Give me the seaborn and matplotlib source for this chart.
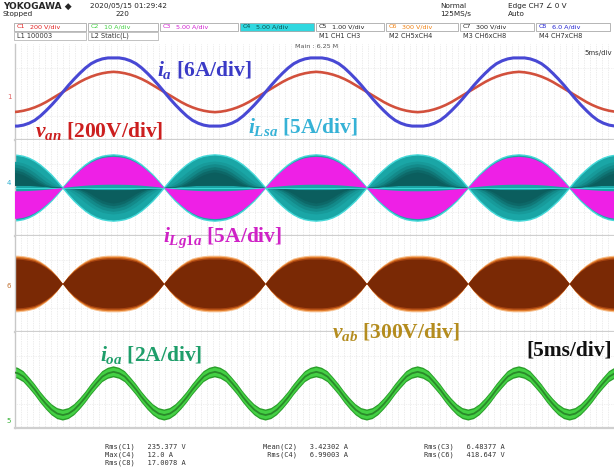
import numpy as np
import pandas as pd
import matplotlib
matplotlib.use("Agg")
import matplotlib.pyplot as plt
import matplotlib.patches as mpatches
import seaborn as sns

sns.set_theme(style="white")
plt.rcParams["font.family"] = ["DejaVu Sans"]
plt.rcParams["mathtext.fontset"] = "custom"
plt.rcParams["mathtext.it"] = "Liberation Serif:italic:bold"
plt.rcParams["mathtext.rm"] = "Liberation Serif:bold"

W, H = 614, 471

# ---------------- data (screen divisions, read from the capture) ----------------
time_per_div_ms = 5.0
n_div_x = 10
period_ms = 16.92          # fundamental period
t_first_zero_ms = 4.0      # rising zero crossing of i_a
n_periods = 4

# one fundamental period, 10 degree steps (div)
ia_period = [0.00, 0.14, 0.27, 0.39, 0.50, 0.59, 0.65, 0.69, 0.71, 0.71, 0.71, 0.69,
             0.65, 0.59, 0.50, 0.39, 0.27, 0.14, 0.00, -0.14, -0.27, -0.39, -0.50, -0.59,
             -0.65, -0.69, -0.71, -0.71, -0.71, -0.69, -0.65, -0.59, -0.50, -0.39, -0.27, -0.14]
van_period = [0.00, 0.07, 0.14, 0.21, 0.27, 0.32, 0.36, 0.39, 0.41, 0.42, 0.41, 0.39,
              0.36, 0.32, 0.27, 0.21, 0.14, 0.07, 0.00, -0.07, -0.14, -0.21, -0.27, -0.32,
              -0.36, -0.39, -0.41, -0.42, -0.41, -0.39, -0.36, -0.32, -0.27, -0.21, -0.14, -0.07]
# half period envelopes (div)
iLsa_env_half = [0.00, 0.14, 0.27, 0.38, 0.48, 0.56, 0.62, 0.66, 0.68, 0.69, 0.68, 0.66,
                 0.62, 0.56, 0.48, 0.38, 0.27, 0.14]
vab_env_half = [0.00, 0.16, 0.29, 0.39, 0.47, 0.53, 0.56, 0.58, 0.59, 0.59, 0.59, 0.58,
                0.56, 0.53, 0.47, 0.39, 0.29, 0.16]
ioa_half = [-0.73, -0.70, -0.62, -0.50, -0.36, -0.20, -0.06, 0.07, 0.14, 0.17, 0.14, 0.07,
            -0.06, -0.20, -0.36, -0.50, -0.62, -0.70]

labels = {
    "ia": r"$i_a$ [6A/div]",
    "van": r"$v_{an}$ [200V/div]",
    "iLsa": r"$i_{Lsa}$ [5A/div]",
    "iLg1a": r"$i_{Lg1a}$ [5A/div]",
    "vab": r"$v_{ab}$ [300V/div]",
    "ioa": r"$i_{oa}$ [2A/div]",
}

channel_boxes = [("C1", "200 V/div"), ("C2", "10 A/div"), ("C3", "5.00 A/div"),
                 ("C4", "5.00 A/div"), ("C5", "1.00 V/div"), ("C6", "300 V/div"),
                 ("C7", "300 V/div"), ("C8", "6.0 A/div")]
lower_boxes = [("L1", "100003"), ("L2", "Static(L)")]
math_rows = [("M1", "CH1 CH3"), ("M2", "CH5xCH4"), ("M3", "CH6xCH8"), ("M4", "CH7xCH8")]
meas_col1 = ["Rms(C1)   235.377 V", "Max(C4)   12.0 A", "Rms(C8)   17.0078 A"]
meas_col2 = ["Mean(C2)   3.42302 A", " Rms(C4)   6.99003 A"]
meas_col3 = ["Rms(C3)   6.48377 A", "Rms(C6)   418.647 V"]

# ---------------- build sample frame ----------------
n_samp = 36 * n_periods + 1
step = period_ms / 36
t = t_first_zero_ms - period_ms + np.arange(n_samp) * step


def full(vals):
    return np.concatenate([np.tile(vals, n_periods), np.asarray(vals[:1])])


def half(vals):
    return np.concatenate([np.tile(vals, 2 * n_periods), np.asarray(vals[:1])])


df = pd.DataFrame({
    "t": t,
    "ia": full(ia_period),
    "van": full(van_period),
    "env": half(iLsa_env_half),
    "venv": half(vab_env_half),
    "ioa": half(ioa_half),
})
sgn = np.sign(df["van"].values)
env = df["env"].values
emax = env.max()
en = env / emax

# ---------------- figure ----------------
fig = plt.figure(figsize=(W / 100, H / 100), dpi=100)
fig.patch.set_facecolor("white")

x0, x1 = 15, 614
tops = [44, 140, 236, 332]
ph = 96
axes = []
for top in tops:
    ax = fig.add_axes([x0 / W, 1 - (top + ph) / H, (x1 - x0) / W, ph / H])
    ax.set_xlim(0, time_per_div_ms * n_div_x)
    ax.set_ylim(-1, 1)
    ax.set_xticks([])
    ax.set_yticks([])
    for s in ["top", "right"]:
        ax.spines[s].set_visible(False)
    ax.spines["left"].set_color("#c8c8c8")
    ax.spines["left"].set_linewidth(1.0)
    ax.spines["bottom"].set_color("#cfcfcf")
    ax.spines["bottom"].set_linewidth(1.6)
    ax.set_facecolor("white")
    for gx in np.arange(0.5, 50, 0.5):
        ax.axvline(gx, color="#dadada", lw=0.5, ls=(0, (1, 1.5)), zorder=0)
    for gy in [-0.5, 0.5]:
        ax.axhline(gy, color="#e2e2e2", lw=0.5, ls=(0, (1, 1.5)), zorder=0)
    axes.append(ax)

# panel 1: i_a and v_an
ax = axes[0]
sns.lineplot(data=df, x="t", y="van", ax=ax, color="#d2503c", lw=1.9, zorder=3)
sns.lineplot(data=df, x="t", y="ia", ax=ax, color="#4848d4", lw=2.2, zorder=4)
ax.set_xlabel("")
ax.set_ylabel("")

# panel 2: i_Lsa (teal) and i_Lg1a (magenta)
ax = axes[1]
ax.fill_between(df["t"], -env, env, color="#1aa6a6", lw=0, zorder=2)
ax.plot(df["t"], env, color="#44d8d8", lw=1.0, zorder=2.5)
ax.plot(df["t"], -env, color="#44d8d8", lw=1.0, zorder=2.5)
core_cols = ["#179a9a", "#138a8a", "#107878", "#0d6868", "#0b5e5e"]
core_amp = [0.80, 0.72, 0.63, 0.55, 0.47]
core_pow = [1.6, 2.2, 2.9, 3.6, 4.4]
for k, c in enumerate(core_cols):
    ax.fill_between(df["t"], -sgn * 0.07 * env, -sgn * core_amp[k] * en ** core_pow[k] * emax,
                    color=c, lw=0, zorder=3 + 0.01 * k)
ax.axhline(0, color="#45e6e6", lw=0.7, alpha=0.8, zorder=3.3)
ax.fill_between(df["t"], sgn * 0.1 * env, sgn * 0.94 * env, color="#ee20e6", lw=0, zorder=4)

# panel 3: v_ab
ax = axes[2]
venv = df["venv"].values
ax.fill_between(df["t"], -venv, venv, color="#f7c08e", lw=0, zorder=2)
ax.fill_between(df["t"], -0.96 * venv, 0.96 * venv, color="#e07a2a", lw=0, zorder=2.2)
ax.fill_between(df["t"], -0.91 * venv, 0.91 * venv, color="#a84410", lw=0, zorder=2.3)
ax.fill_between(df["t"], -0.86 * venv, 0.86 * venv, color="#7a2905", lw=0, zorder=2.4)

# panel 4: i_oa
ax = axes[3]
g = df["ioa"].values
ax.fill_between(df["t"], g - 0.115, g + 0.115, color="#2a9e2a", lw=0, zorder=2)
ax.fill_between(df["t"], g - 0.085, g + 0.085, color="#44d044", lw=0, zorder=2.2)
sns.lineplot(data=df, x="t", y="ioa", ax=ax, color="#2a8a2a", lw=1.3, zorder=3)
ax.set_xlabel("")
ax.set_ylabel("")


def ftext(x, y, s, **kw):
    fig.text(x / W, 1 - y / H, s, **kw)


lab_kw = dict(fontsize=15.5, fontweight="bold", family="Liberation Serif", va="center", ha="left", zorder=10)
ftext(157, 70, labels["ia"], color="#3a3ac6", **lab_kw)
ftext(35, 131, labels["van"], color="#cc1e1e", **lab_kw)
ftext(248, 127, labels["iLsa"], color="#36b2d6", **lab_kw)
ftext(163, 238, labels["iLg1a"], color="#cf22c6", **lab_kw)
ftext(332, 332, labels["vab"], color="#b48c1e", **lab_kw)
ftext(100, 355, labels["ioa"], color="#1e9e6a", **lab_kw)
ftext(612, 351, "[5ms/div]", color="#111111", fontsize=15.5, fontweight="bold",
      family="Liberation Serif", va="center", ha="right")

# ground markers
mk = dict(fontsize=5, va="center", ha="center", family="DejaVu Sans")
ftext(9, 97, "1", color="#e06060", **mk)
ftext(9, 183, "4", color="#30b0d0", **mk)
ftext(9, 286, "6", color="#c07030", **mk)
ftext(9, 421, "5", color="#30b030", **mk)

# ---------------- header ----------------
hk = dict(fontsize=5.2, family="DejaVu Sans", va="center", ha="left", color="#222222")
ftext(3, 6, "YOKOGAWA \u25c6", fontsize=6.5, fontweight="bold", family="DejaVu Sans", va="center", ha="left")
ftext(90, 6, "2020/05/15 01:29:42", **hk)
ftext(3, 14, "Stopped", **hk)
ftext(115, 14, "220", **hk)
ftext(440, 6, "Normal", **hk)
ftext(440, 14, "125MS/s", **hk)
ftext(508, 6, "Edge CH7 \u2220 0 V", **hk)
ftext(508, 14, "Auto", **hk)

box_x = [14, 88, 160, 240, 316, 386, 460, 536, 612]
box_col = ["#e02020", "#40d040", "#d020d0", "#0a5050", "#222222", "#f08010", "#222222", "#2020d0"]
for i, (ch, sc) in enumerate(channel_boxes):
    xa, xb = box_x[i], box_x[i + 1]
    face = "#30d8e0" if ch == "C4" else "white"
    fig.patches.append(mpatches.Rectangle((xa / W, 1 - 31 / H), (xb - xa - 2) / W, 8 / H,
                                          transform=fig.transFigure, facecolor=face,
                                          edgecolor="#999999", lw=0.5))
    ftext(xa + 3, 27, ch, fontsize=4.6, family="DejaVu Sans", va="center", ha="left", color=box_col[i])
    ftext(xa + 16, 27, sc, fontsize=4.6, family="DejaVu Sans", va="center", ha="left", color=box_col[i])

for i, (lb, s) in enumerate(lower_boxes):
    xa, xb = box_x[i], box_x[i + 1]
    fig.patches.append(mpatches.Rectangle((xa / W, 1 - 40 / H), (xb - xa - 2) / W, 8 / H,
                                          transform=fig.transFigure, facecolor="white",
                                          edgecolor="#aaaaaa", lw=0.5))
    ftext(xa + 3, 36, lb + " " + s, fontsize=4.8, family="DejaVu Sans", va="center", ha="left", color="#333333")
for i, (m, s) in enumerate(math_rows):
    xa = box_x[4 + i]
    ftext(xa + 3, 36, m + " " + s, fontsize=4.8, family="DejaVu Sans", va="center", ha="left", color="#333333")
ftext(295, 47, "Main : 6.25 M", fontsize=4.6, family="DejaVu Sans", va="center", ha="left", color="#555555")
ftext(612, 53, "5ms/div", fontsize=5, family="DejaVu Sans", va="center", ha="right", color="#333333")

# ---------------- measurements ----------------
mkw = dict(fontsize=5, family="DejaVu Sans Mono", va="center", ha="left", color="#333333")
for i, s in enumerate(meas_col1):
    ftext(105, 447 + 8 * i, s, **mkw)
for i, s in enumerate(meas_col2):
    ftext(263, 447 + 8 * i, s, **mkw)
for i, s in enumerate(meas_col3):
    ftext(424, 447 + 8 * i, s, **mkw)

fig.savefig("out.png", dpi=100)
